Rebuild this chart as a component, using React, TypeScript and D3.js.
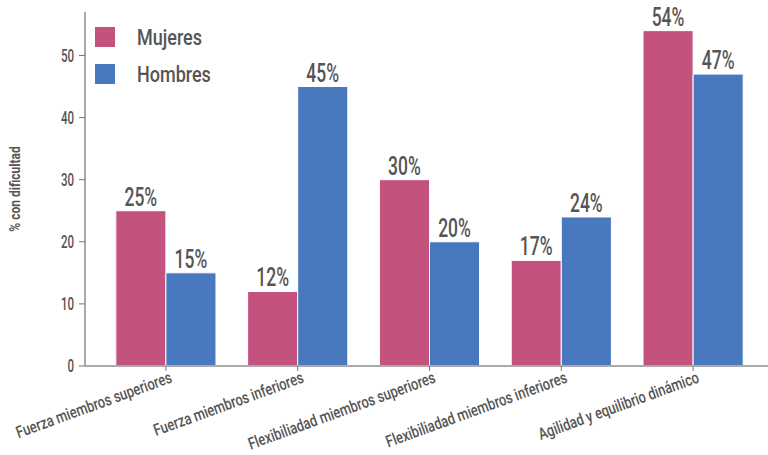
import React from "react";
import * as d3 from "d3";

const categories = [
  "Fuerza miembros superiores",
  "Fuerza miembros inferiores",
  "Flexibiliadad miembros superiores",
  "Flexibiliadad miembros inferiores",
  "Agilidad y equilibrio dinámico",
];
const seriesNames = ["Mujeres", "Hombres"];
const mujeres = [25, 12, 30, 17, 54];
const hombres = [15, 45, 20, 24, 47];
const yTicks = [0, 10, 20, 30, 40, 50];
const colors = ["#c4527f", "#4878be"];

const W = 768;
const H = 455;
const FONT = "Roboto, 'DejaVu Sans', sans-serif";
const TXT = "#555";

export default function App() {
  const x0 = d3.scaleBand().domain(categories).range([100, 759]).paddingInner(0.24).paddingOuter(0.12);
  const x1 = d3.scaleBand().domain(seriesNames).range([0, x0.bandwidth()]);
  const y = d3.scaleLinear().domain([0, 57]).range([366, 12]);
  const series = [mujeres, hombres];

  return (
    <svg width={W} height={H} style={{ position: "absolute", left: 0, top: 0, background: "#fff" }} fontFamily={FONT}>
      {categories.map((c, i) =>
        series.map((s, j) => (
          <g key={c + j}>
            <rect
              x={(x0(c) as number) + (x1(seriesNames[j]) as number)}
              y={y(s[i])}
              width={x1.bandwidth()}
              height={y(0) - y(s[i])}
              fill={colors[j]}
              stroke="#fff"
              strokeWidth={1}
              rx={1}
            />
            <g
              transform={`translate(${(x0(c) as number) + (x1(seriesNames[j]) as number) + x1.bandwidth() / 2},${
                y(s[i]) - 5
              }) scale(0.7,1)`}
            >
              <text textAnchor="middle" fontSize={25} fontWeight={500} fill={TXT}>
                {s[i]}%
              </text>
            </g>
          </g>
        ))
      )}
      <line x1={85} x2={85} y1={12} y2={366} stroke="#aaa" strokeWidth={2} />
      {yTicks.map((t) => (
        <g key={t}>
          <line x1={79} x2={85} y1={y(t)} y2={y(t)} stroke="#777" />
          <g transform={`translate(74,${y(t)}) scale(0.64,1)`}>
            <text dy="0.36em" textAnchor="end" fontSize={18} fontWeight={500} fill={TXT}>
              {t}
            </text>
          </g>
        </g>
      ))}
      <line x1={85} x2={768} y1={366} y2={366} stroke="#aaa" strokeWidth={2} />
      {categories.map((c) => {
        const cx = (x0(c) as number) + x0.bandwidth() / 2;
        return (
          <g key={c}>
            <line x1={cx} x2={cx} y1={366} y2={371} stroke="#777" />
            <g transform={`translate(${cx + 7},${382}) rotate(-20) scale(0.78,1)`}>
              <text textAnchor="end" fontSize={16.5} fontWeight={500} fill={TXT}>
                {c}
              </text>
            </g>
          </g>
        );
      })}
      <g transform={`translate(20,${189}) rotate(-90) scale(0.86,1)`}>
        <text textAnchor="middle" fontSize={14} fontWeight={700} fill={TXT}>
          % con dificultad
        </text>
      </g>
      {seriesNames.map((n, j) => (
        <g key={n}>
          <rect x={95} y={27 + j * 37} width={20} height={20} fill={colors[j]} />
          <g transform={`translate(137,${37 + j * 37}) scale(0.8,1)`}>
            <text dy="0.36em" fontSize={22.5} fontWeight={500} fill={TXT}>
              {n}
            </text>
          </g>
        </g>
      ))}
    </svg>
  );
}
